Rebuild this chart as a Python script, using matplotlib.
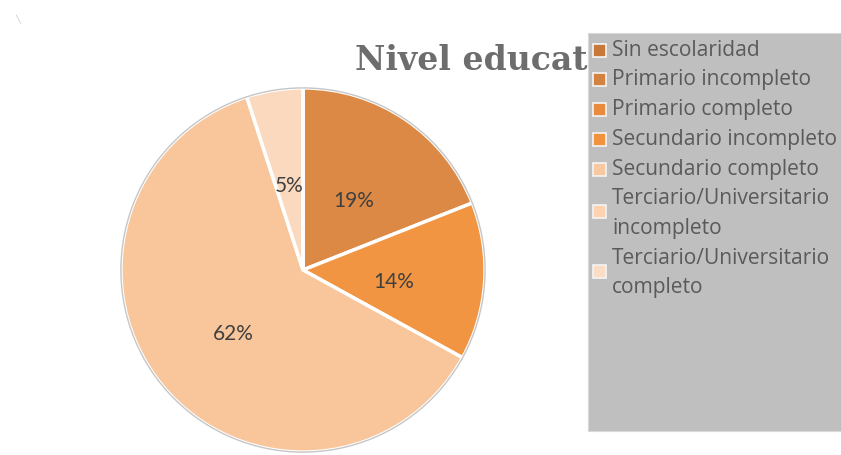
import matplotlib
matplotlib.use("Agg")
import matplotlib.pyplot as plt
from matplotlib.patches import Rectangle
from matplotlib.transforms import offset_copy

categories = ['Sin escolaridad', 'Primario incompleto', 'Primario completo',
              'Secundario incompleto', 'Secundario completo',
              'Terciario/Universitario incompleto', 'Terciario/Universitario completo']
legend_labels = ['Sin escolaridad', 'Primario incompleto', 'Primario completo',
                 'Secundario incompleto', 'Secundario completo',
                 'Terciario/Universitario\nincompleto', 'Terciario/Universitario\ncompleto']
values = [0, 0, 19, 14, 62, 5, 0]
slice_colors = ['#c8793a', '#d4823f', '#dd8946', '#f29542', '#f9c69c', '#fbd9bf', '#fbdcc4']
swatch_colors = ['#c8793a', '#d4823f', '#e88b3f', '#f0923e', '#f8c8a0', '#fcd2b0', '#fbdcc4']
title = 'Nivel educativo'

W, H = 841, 455
fig = plt.figure(figsize=(W / 100, H / 100), dpi=100)
fig.patch.set_facecolor('white')
renderer = fig.canvas.get_renderer()

def fx(px):
    return px / W

def fy(py):
    return 1 - py / H

def fit_size(txt, target_px, base, **kw):
    t = fig.text(0, 0, txt, fontsize=base, **kw)
    w = t.get_window_extent(renderer=renderer).width
    t.remove()
    return base * target_px / w

# tiny resize icon top-left
fig.text(fx(18), fy(19), '\u2572', fontsize=6, color='#c4c4c4', ha='center', va='center',
         family='DejaVu Sans')

# title (partly covered by the legend box, as in the reference)
tkw = dict(fontweight='bold', family='DejaVu Serif')
tsize = fit_size('Nivel educat', 233, 20, **tkw)
fig.text(fx(355), fy(70), title, fontsize=tsize, color='#6d6d6d',
         ha='left', va='baseline', zorder=1, **tkw)

# pie
cx, cy, r = 303, 270, 183
ax = fig.add_axes([fx(cx - r), fy(cy + r), (2 * r) / W, (2 * r) / H])
wedges, texts, autotexts = ax.pie(
    values, colors=slice_colors, startangle=90, counterclock=False, radius=1,
    autopct=lambda p: f'{p:.0f}%' if p > 0.5 else '', pctdistance=0.5,
    wedgeprops=dict(edgecolor='white', linewidth=2.5),
    textprops=dict(color='#404040', fontsize=15, family='Lato'))
for t in autotexts:
    t.set_transform(offset_copy(t.get_transform(), fig=fig, x=0, y=-6, units='dots'))
circle = plt.Circle((0, 0), 1.0, fill=False, edgecolor='#c6c6c6', linewidth=1.0, zorder=5)
ax.add_patch(circle)
ax.set_xlim(-1.005, 1.005)
ax.set_ylim(-1.005, 1.005)
ax.set_aspect('equal')
ax.axis('off')

# legend box
lx0, ly0, lx1, ly1 = 588, 33, 845, 431
fig.patches.append(Rectangle((fx(lx0), fy(ly1)), fx(lx1 - lx0), (ly1 - ly0) / H,
                             transform=fig.transFigure, facecolor='#bfbfbf',
                             edgecolor='#d9d9d9', linewidth=0.8, zorder=3))
lkw = dict(family='Open Sans')
lsize = fit_size('Secundario incompleto', 224, 12, **lkw)
pitch = 29.75
line = 0
for lab, col in zip(legend_labels, swatch_colors):
    nlines = lab.count('\n') + 1
    y_first = 50 + line * pitch
    y_mid = y_first + (nlines - 1) * pitch / 2 - (2 if nlines > 1 else 0)
    s = 13
    fig.patches.append(Rectangle((fx(593), fy(y_mid + s / 2)), fx(s), s / H,
                                 transform=fig.transFigure, facecolor=col,
                                 edgecolor='#f4f4f4', linewidth=1.2, zorder=4))
    for k, part in enumerate(lab.split('\n')):
        fig.text(fx(612), fy(y_first + k * pitch), part, fontsize=lsize, color='#5a5a5a',
                 ha='left', va='center', zorder=5, **lkw)
    line += nlines

fig.savefig('out.png', dpi=100, facecolor='white')
